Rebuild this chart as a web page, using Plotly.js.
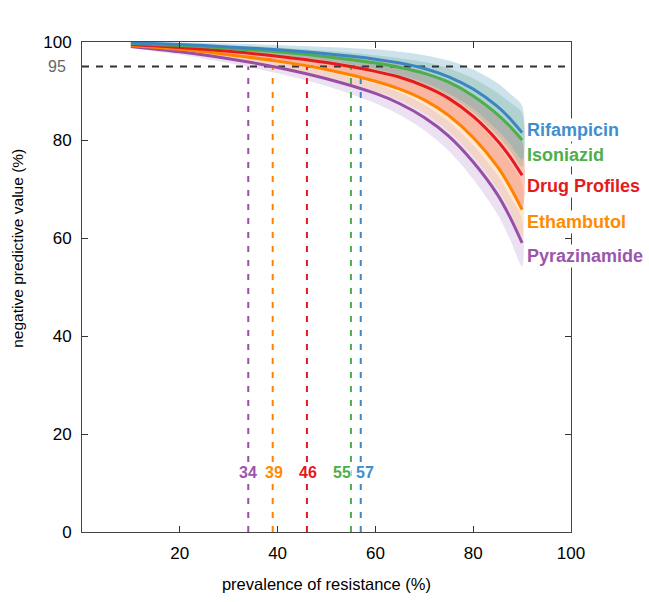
<!DOCTYPE html>
<html>
<head>
<meta charset="utf-8">
<script src="https://cdn.plot.ly/plotly-3.0.1.min.js"></script>
<style>
  html, body { margin: 0; padding: 0; background: #fff; }
  #chart { width: 649px; height: 602px; }
</style>
</head>
<body>
<div id="chart"></div>
<script>
(function () {
  'use strict';

  /* prevalence of resistance (%) */
  const prevalence = [10, 20, 30, 40, 50, 60, 65, 70, 75, 80, 85, 87.5, 90];

  /* NPV (%) */
  const rifLine = [99.8, 99.5, 99.0, 98.4, 97.6, 96.5, 95.7, 94.6, 92.9, 90.4, 86.8, 84.4, 81.5];
  const rifHigh = [100.0, 99.9, 99.7, 99.4, 99.0, 98.5, 98.0, 97.3, 96.2, 94.4, 91.6, 89.5, 87.0];
  const rifLow  = [99.6, 99.1, 98.3, 97.4, 96.2, 94.5, 93.3, 91.7, 89.5, 86.4, 82.0, 79.2, 76.0];

  const inhLine = [99.7, 99.3, 98.7, 98.0, 97.0, 95.7, 94.8, 93.6, 91.8, 89.0, 85.2, 82.8, 80.0];
  const inhHigh = [99.9, 99.7, 99.3, 98.9, 98.2, 97.3, 96.7, 95.9, 94.6, 92.6, 89.6, 87.7, 85.5];
  const inhLow  = [99.5, 98.9, 98.1, 97.1, 95.8, 94.1, 92.9, 91.3, 89.0, 85.6, 80.9, 77.9, 74.5];

  const dpLine = [99.5, 98.9, 98.1, 97.1, 95.8, 94.0, 92.8, 91.0, 88.5, 84.8, 79.8, 76.6, 72.8];
  const dpHigh = [99.8, 99.5, 99.0, 98.3, 97.4, 96.2, 95.3, 94.0, 92.1, 89.3, 85.4, 82.8, 79.8];
  const dpLow  = [99.2, 98.3, 97.2, 95.9, 94.2, 91.8, 90.2, 87.9, 84.7, 80.2, 74.1, 70.2, 65.8];

  const embLine = [99.3, 98.5, 97.4, 96.1, 94.4, 92.0, 90.4, 88.2, 85.0, 80.5, 74.5, 70.5, 65.8];
  const embHigh = [99.6, 99.1, 98.3, 97.3, 95.9, 94.0, 92.7, 90.9, 88.2, 84.3, 79.0, 75.4, 71.3];
  const embLow  = [99.0, 97.9, 96.5, 94.9, 92.9, 90.0, 88.1, 85.5, 81.8, 76.7, 70.0, 65.5, 60.3];

  const pzaLine = [99.1, 98.0, 96.6, 94.8, 92.5, 89.5, 87.4, 84.6, 80.8, 75.5, 68.8, 64.3, 59.0];
  const pzaHigh = [99.4, 98.6, 97.5, 96.0, 94.0, 91.5, 89.7, 87.2, 83.8, 79.0, 72.8, 68.6, 63.8];
  const pzaLow  = [98.8, 97.4, 95.7, 93.6, 91.0, 87.5, 85.1, 82.0, 77.8, 72.0, 64.8, 59.8, 54.2];

  /* prevalence where lower bound drops below 95% NPV */
  const cutoffs = [34, 39, 46, 55, 57];
  const cutoffNames = ['Pyrazinamide', 'Ethambutol', 'Drug Profiles', 'Isoniazid', 'Rifampicin'];
  const cutoffShift = [0, 1, 1, -9, 4];
  const threshold = 95;

  const names = ['Rifampicin', 'Isoniazid', 'Drug Profiles', 'Ethambutol', 'Pyrazinamide'];
  const labelY = [82.0, 76.9, 70.6, 63.3, 56.3];

  const COLORS = {
    'Rifampicin':    { line: '#3b86c2', band: 'rgba(90,160,190,0.30)', text: '#3f8fce' },
    'Isoniazid':     { line: '#4daf4a', band: 'rgba(90,170,110,0.25)', text: '#4daf4a' },
    'Drug Profiles': { line: '#e41a1c', band: 'rgba(240,110,90,0.40)', text: '#e41a1c' },
    'Ethambutol':    { line: '#ff8200', band: 'rgba(255,190,120,0.35)', text: '#ff8c00' },
    'Pyrazinamide':  { line: '#984ea3', band: 'rgba(170,120,200,0.22)', text: '#9b55ad' }
  };

  const series = {
    'Rifampicin':    [rifLine, rifHigh, rifLow],
    'Isoniazid':     [inhLine, inhHigh, inhLow],
    'Drug Profiles': [dpLine, dpHigh, dpLow],
    'Ethambutol':    [embLine, embHigh, embLow],
    'Pyrazinamide':  [pzaLine, pzaHigh, pzaLow]
  };

  const FONT = 'Liberation Sans, Arial, sans-serif';
  const traces = [];

  /* confidence bands first, bottom to top */
  names.slice().reverse().forEach(n => {
    const s = series[n];
    traces.push({
      x: prevalence.concat(prevalence.slice().reverse()),
      y: s[1].concat(s[2].slice().reverse()),
      type: 'scatter', mode: 'lines', fill: 'toself',
      fillcolor: COLORS[n].band,
      line: { width: 0, shape: 'spline', smoothing: 0.8 },
      hoverinfo: 'skip', showlegend: false
    });
  });

  /* 95% threshold */
  traces.push({
    x: [0, 100], y: [threshold, threshold],
    type: 'scatter', mode: 'lines',
    line: { color: '#333', width: 2, dash: '7px,7px' },
    hoverinfo: 'skip', showlegend: false
  });

  /* cutoff verticals */
  cutoffs.forEach((c, i) => {
    traces.push({
      x: [c, c], y: [0, threshold],
      type: 'scatter', mode: 'lines',
      line: { color: COLORS[cutoffNames[i]].line, width: 2, dash: '6px,8px' },
      hoverinfo: 'skip', showlegend: false
    });
  });

  /* main curves */
  names.slice().reverse().forEach(n => {
    traces.push({
      x: prevalence, y: series[n][0],
      type: 'scatter', mode: 'lines',
      line: { color: COLORS[n].line, width: 3, shape: 'spline', smoothing: 0.8 },
      name: n, showlegend: false
    });
  });

  const annotations = [];

  names.forEach((n, i) => {
    annotations.push({
      x: 90.6, y: labelY[i], xref: 'x', yref: 'y',
      xanchor: 'left', yanchor: 'middle',
      text: '<b>' + n + '</b>', showarrow: false,
      bgcolor: '#fff', borderpad: 1,
      font: { family: FONT, size: 18, color: COLORS[n].text }
    });
  });

  cutoffs.forEach((c, i) => {
    annotations.push({
      x: c, y: 12.2, xref: 'x', yref: 'y',
      xanchor: 'center', yanchor: 'middle', xshift: cutoffShift[i],
      text: '<b>' + c + '</b>', showarrow: false,
      bgcolor: '#fff', borderpad: 0,
      font: { family: FONT, size: 16, color: COLORS[cutoffNames[i]].text }
    });
  });

  annotations.push({
    x: 0, y: threshold, xref: 'paper', yref: 'y',
    xanchor: 'right', yanchor: 'middle', xshift: -14,
    text: '95', showarrow: false,
    font: { family: FONT, size: 16, color: '#666' }
  });

  /* y-axis title sits above the plot centre in the reference */
  annotations.push({
    x: 0, y: 57.8, xref: 'paper', yref: 'y',
    xanchor: 'center', yanchor: 'middle', xshift: -64,
    textangle: -90, showarrow: false,
    text: 'negative predictive value (%)',
    font: { family: FONT, size: 15.5, color: '#000' }
  });

  const LAYOUT = {
    width: 649, height: 602,
    paper_bgcolor: '#fff', plot_bgcolor: '#fff',
    margin: { t: 42, r: 78, b: 70, l: 82 },
    font: { family: FONT, color: '#000', size: 17 },
    showlegend: false,
    xaxis: {
      range: [0, 100], tickvals: [20, 40, 60, 80, 100],
      ticks: 'inside', ticklen: 6, tickcolor: '#333', tickwidth: 1,
      showline: true, linecolor: '#444', linewidth: 1, mirror: 'ticks',
      showgrid: false, zeroline: false,
      ticklabelstandoff: 6,
      title: { text: 'prevalence of resistance (%)', font: { size: 16.5 }, standoff: 16 }
    },
    yaxis: {
      range: [0, 100], tickvals: [0, 20, 40, 60, 80, 100],
      ticks: 'inside', ticklen: 6, tickcolor: '#333', tickwidth: 1,
      showline: true, linecolor: '#444', linewidth: 1, mirror: 'ticks',
      showgrid: false, zeroline: false,
      ticklabelstandoff: 6
    },
    annotations: annotations
  };

  Plotly.newPlot('chart', traces, LAYOUT, { displayModeBar: false, staticPlot: true });
})();
</script>
</body>
</html>
